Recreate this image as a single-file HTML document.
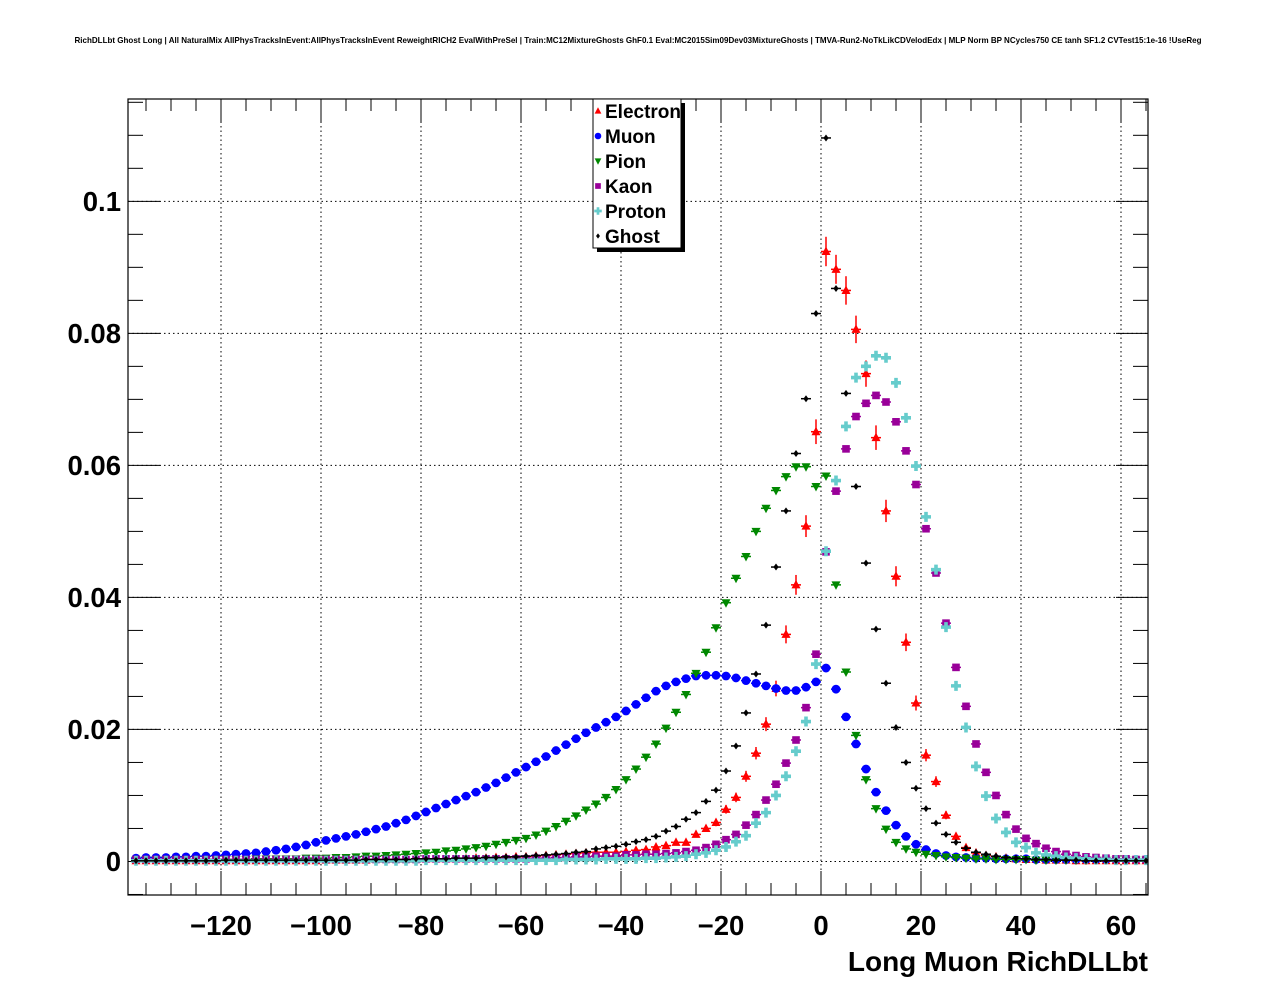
<!DOCTYPE html>
<html><head><meta charset="utf-8"><style>
html,body{margin:0;padding:0;background:#fff;}
svg{display:block;font-family:"Liberation Sans",Arial,sans-serif;}
</style></head><body>
<svg id="chart" width="1276" height="996" viewBox="0 0 1276 996" xmlns="http://www.w3.org/2000/svg">
<defs><clipPath id="frameclip"><rect x="128" y="99" width="1020" height="796"/></clipPath></defs>
<rect x="0" y="0" width="1276" height="996" fill="#fff"/>
<text x="638" y="43" text-anchor="middle" font-size="8.1" font-weight="bold" textLength="1127" lengthAdjust="spacingAndGlyphs">RichDLLbt Ghost Long | All NaturalMix AllPhysTracksInEvent:AllPhysTracksInEvent ReweightRICH2 EvalWithPreSel | Train:MC12MixtureGhosts GhF0.1 Eval:MC2015Sim09Dev03MixtureGhosts | TMVA-Run2-NoTkLikCDVelodEdx | MLP Norm BP NCycles750 CE tanh SF1.2 CVTest15:1e-16 !UseReg</text>
<g id="grid"></g>
<g id="axes"></g>
<g id="series" clip-path="url(#frameclip)"></g>
<rect x="128" y="99" width="1020" height="796" fill="none" stroke="#000" stroke-width="1.2"/>
<text x="1148" y="971" text-anchor="end" font-size="28" font-weight="bold">Long Muon RichDLLbt</text>
<g id="legend">
<rect x="597" y="103" width="88" height="149" fill="#000"/>
<rect x="593" y="99" width="88" height="149" fill="#fff" stroke="#000" stroke-width="1"/>
</g>
</svg>
<script>
const bins = [];
for (let b = -139; b <= 65; b += 2) bins.push(b);
const electron = [
.0001,.0001,.0001,.0001,.0001,.0001,.0001,.0001,.0001,.0001,.0001,.0001,.0001,.0001,.0001,.0001,.0001,.0001,.0001,.0001,
.0002,.0002,.0002,.0002,.0002,.0003,.0003,.0003,.0003,.0003,.0004,.0004,.0004,.0004,.0004,.0005,.0005,.0006,.0006,.0007,
.0007,.0008,.0009,.0010,.0011,.0012,.0013,.0014,.0014,.0014,.0015,.0017,.0018,.0022,.0024,.0029,.0029,.0041,.0050,.0059,
.0079,.0097,.0129,.0164,.0208,.0262,.0344,.0419,.0508,.0651,
.0924,.0897,.0865,.0806,.0739,.0642,.0531,.0432,.0332,.0240,
.0161,.0121,.0070,.0038,.0021,.0013,.0009,.0007,.0005,.0004,
.0003,.0003,.0002,.0002,.0002,.0001,.0001,.0001,.0001,.0001,
.0001,.0001,.0001];
const muon = [
.0005,.0005,.0006,.0006,.0006,.0007,.0007,.0008,.0008,.0009,.0010,.0011,.0012,.0013,.0015,.0017,.0019,.0022,.0025,.0029,
.0032,.0035,.0038,.0041,.0045,.0049,.0053,.0058,.0063,.0069,.0075,.0081,.0087,.0093,.0099,.0105,.0112,.0119,.0127,.0135,
.0143,.0151,.0159,.0168,.0177,.0186,.0195,.0203,.0211,.0219,.0228,.0238,.0248,.0258,.0266,.0272,.0277,.0281,.0282,.0282,
.0281,.0278,.0274,.0270,.0266,.0262,.0259,.0259,.0264,.0272,
.0293,.0261,.0219,.0178,.0140,.0105,.0077,.0055,.0038,.0026,
.0018,.0012,.0009,.0007,.0006,.0005,.0005,.0004,.0004,.0004,
.0004,.0003,.0003,.0003,.0003,.0003,.0003,.0003,.0003,.0003,
.0003,.0003,.0003];
const pion = [
.0002,.0002,.0002,.0002,.0002,.0002,.0003,.0003,.0003,.0003,.0003,.0003,.0003,.0004,.0004,.0004,.0004,.0004,.0005,.0005,
.0005,.0006,.0006,.0007,.0008,.0008,.0009,.0010,.0011,.0012,.0013,.0014,.0016,.0017,.0019,.0021,.0023,.0026,.0029,.0032,
.0035,.0040,.0046,.0053,.0061,.0069,.0078,.0087,.0097,.0109,.0124,.0140,.0158,.0178,.0202,.0226,.0253,.0285,.0317,.0354,
.0392,.0429,.0462,.0500,.0535,.0562,.0583,.0598,.0598,.0568,
.0584,.0419,.0287,.0191,.0124,.0080,.0049,.0029,.0019,.0014,
.0011,.0009,.0007,.0006,.0005,.0004,.0004,.0003,.0003,.0003,
.0003,.0002,.0002,.0002,.0002,.0002,.0002,.0002,.0002,.0002,
.0002,.0002,.0002];
const kaon = [
.0003,.0003,.0003,.0003,.0003,.0003,.0003,.0003,.0003,.0003,.0003,.0003,.0003,.0003,.0003,.0003,.0003,.0003,.0003,.0003,
.0003,.0003,.0003,.0003,.0003,.0003,.0003,.0003,.0003,.0003,.0004,.0004,.0004,.0004,.0004,.0004,.0004,.0004,.0004,.0004,
.0004,.0005,.0005,.0006,.0006,.0007,.0007,.0008,.0008,.0008,.0010,.0010,.0011,.0011,.0012,.0013,.0015,.0017,.0021,.0026,
.0033,.0041,.0055,.0071,.0093,.0117,.0149,.0184,.0233,.0314,
.0469,.0561,.0625,.0674,.0694,.0706,.0696,.0666,.0622,.0571,
.0504,.0437,.0361,.0294,.0235,.0178,.0135,.0100,.0071,.0049,
.0035,.0027,.0020,.0015,.0011,.0009,.0007,.0006,.0005,.0004,
.0004,.0003,.0003];
const proton = [
.0001,.0001,.0001,.0001,.0001,.0001,.0001,.0001,.0001,.0001,.0001,.0001,.0001,.0001,.0001,.0001,.0001,.0001,.0001,.0001,
.0001,.0001,.0001,.0001,.0001,.0001,.0001,.0001,.0001,.0001,.0002,.0002,.0002,.0002,.0002,.0002,.0002,.0002,.0002,.0002,
.0002,.0002,.0002,.0002,.0003,.0003,.0003,.0003,.0004,.0004,.0004,.0004,.0005,.0005,.0006,.0007,.0008,.0011,.0013,.0017,
.0022,.0030,.0039,.0058,.0074,.0100,.0129,.0167,.0212,.0299,
.0470,.0577,.0659,.0733,.0750,.0766,.0763,.0725,.0672,.0599,
.0522,.0442,.0355,.0266,.0203,.0144,.0099,.0065,.0044,.0029,
.0021,.0013,.0010,.0008,.0006,.0005,.0004,.0003,.0003,.0002,
.0002,.0002,.0002];
const ghost = [
.0001,.0001,.0001,.0001,.0001,.0001,.0001,.0001,.0001,.0001,.0002,.0002,.0002,.0002,.0002,.0002,.0002,.0002,.0002,.0002,
.0002,.0002,.0002,.0002,.0003,.0003,.0003,.0003,.0003,.0004,.0004,.0004,.0004,.0005,.0005,.0005,.0006,.0006,.0007,.0007,
.0008,.0009,.0010,.0011,.0012,.0014,.0015,.0019,.0021,.0023,.0026,.0030,.0033,.0038,.0046,.0053,.0064,.0074,.0091,.0108,
.0137,.0175,.0225,.0284,.0358,.0446,.0531,.0618,.0701,.0830,
.1096,.0868,.0709,.0568,.0452,.0352,.0270,.0203,.0150,.0111,
.0080,.0058,.0041,.0029,.0020,.0014,.0011,.0008,.0006,.0005,
.0004,.0003,.0003,.0002,.0002,.0002,.0001,.0001,.0001,.0001,
.0001,.0001,.0001];
const xTicks = [-120,-100,-80,-60,-40,-20,0,20,40,60];
const xTickLabels = ["\u2212120","\u2212100","\u221280","\u221260","\u221240","\u221220","0","20","40","60"];
const yTicks = [0,0.02,0.04,0.06,0.08,0.1];
const yTickLabels = ["0","0.02","0.04","0.06","0.08","0.1"];
const legendLabels = ["Electron","Muon","Pion","Kaon","Proton","Ghost"];

const NS = "http://www.w3.org/2000/svg";
const X0 = 128, X1 = 1148, Y0 = 99, Y1 = 895;
const xmin = -138.6, xmax = 65.4, ymin = -0.00508, ymax = 0.1155;
function xs(v){ return X0 + (v - xmin) / (xmax - xmin) * (X1 - X0); }
function ys(v){ return Y1 - (v - ymin) / (ymax - ymin) * (Y1 - Y0); }
function mk(tag, attrs, parent){
  const e = document.createElementNS(NS, tag);
  for (const k in attrs) e.setAttribute(k, attrs[k]);
  parent.appendChild(e);
  return e;
}
const grid = document.getElementById('grid');
const axes = document.getElementById('axes');
const series = document.getElementById('series');

xTicks.forEach((t, i) => {
  const x = xs(t);
  const g = mk('line', {x1:x, x2:x, y1:Y0, y2:Y1, stroke:'#000', 'stroke-width':1, 'stroke-dasharray':'1.5,3'}, grid);
  
  
  const lb = mk('text', {x:x, y:935, 'text-anchor':'middle', 'font-size':27.5, 'font-weight':'bold'}, axes);
  lb.textContent = xTickLabels[i];
  
  
});
for (let v = -135; v <= 65; v += 5) {
  const x = xs(v);
  const major = (v % 20 === 0);
  const len = major ? 24 : 12;
  const a = mk('line', {x1:x, x2:x, y1:Y1, y2:Y1 - len, stroke:'#000', 'stroke-width':1}, axes);
  
  
  const b = mk('line', {x1:x, x2:x, y1:Y0, y2:Y0 + len, stroke:'#000', 'stroke-width':1}, axes);
  
  
}
yTicks.forEach((t, i) => {
  const y = ys(t);
  const g = mk('line', {x1:X0, x2:X1, y1:y, y2:y, stroke:'#000', 'stroke-width':1, 'stroke-dasharray':'1.5,3'}, grid);
  
  
  const lb = mk('text', {x:121, y:y + 9.5, 'text-anchor':'end', 'font-size':27.5, 'font-weight':'bold'}, axes);
  lb.textContent = yTickLabels[i];
  
  
});
for (let k = -1; k <= 23; k++) {
  const v = k * 0.005;
  const y = ys(v);
  if (y < Y0 || y > Y1) continue;
  const major = (k % 4 === 0);
  const len = major ? 32 : 15;
  const a = mk('line', {x1:X0, x2:X0 + len, y1:y, y2:y, stroke:'#000', 'stroke-width':1}, axes);
  
  
  const b = mk('line', {x1:X1, x2:X1 - len, y1:y, y2:y, stroke:'#000', 'stroke-width':1}, axes);
  
  
}

function marker(shape, color, cx, cy, parent, s){
  let e;
  if (shape === 'tri-up') e = mk('polygon', {points:`${cx},${cy-5*s} ${cx-4.5*s},${cy+3.5*s} ${cx+4.5*s},${cy+3.5*s}`, fill:color}, parent);
  else if (shape === 'tri-down') e = mk('polygon', {points:`${cx},${cy+5*s} ${cx-4.5*s},${cy-3.5*s} ${cx+4.5*s},${cy-3.5*s}`, fill:color}, parent);
  else if (shape === 'circle') e = mk('circle', {cx:cx, cy:cy, r:4.4*s, fill:color}, parent);
  else if (shape === 'square') e = mk('rect', {x:cx-3.8*s, y:cy-3.8*s, width:7.6*s, height:7.6*s, fill:color}, parent);
  else if (shape === 'cross') e = mk('path', {d:`M${cx-5*s},${cy-1.8*s}h${3.2*s}v${-3.2*s}h${3.6*s}v${3.2*s}h${3.2*s}v${3.6*s}h${-3.2*s}v${3.2*s}h${-3.6*s}v${-3.2*s}h${-3.2*s}z`, fill:color}, parent);
  else e = mk('polygon', {points:`${cx},${cy-3.5*s} ${cx+2.6*s},${cy} ${cx},${cy+3.5*s} ${cx-2.6*s},${cy}`, fill:color}, parent);
  return e;
}
const defs = [
  {name:'electron', vals:electron, color:'#ff0000', shape:'tri-up', err:true},
  {name:'muon', vals:muon, color:'#0000ff', shape:'circle'},
  {name:'pion', vals:pion, color:'#008800', shape:'tri-down'},
  {name:'kaon', vals:kaon, color:'#990099', shape:'square'},
  {name:'proton', vals:proton, color:'#66cccc', shape:'cross'},
  {name:'ghost', vals:ghost, color:'#000000', shape:'diamond'}
];
defs.forEach(d => {
  const g = mk('g', {}, series);
  
  
  d.vals.forEach((v, i) => {
    const cx = xs(bins[i]), cy = ys(v);
    if (cx < X0 + 2 || cx > X1 - 2) return;
    const h = mk('line', {x1:xs(bins[i]-1), x2:xs(bins[i]+1), y1:cy, y2:cy, stroke:d.color, 'stroke-width':1.5}, g);
    
    
    if (d.err) {
      const e = 0.0022 * Math.sqrt(v / 0.09);
      const vb = mk('line', {x1:cx, x2:cx, y1:ys(v + e), y2:ys(v - e), stroke:d.color, 'stroke-width':1.5}, g);
      
      
    }
    const m = marker(d.shape, d.color, cx, cy, g, 1);
    
    
  });
});
const leg = document.getElementById('legend');
defs.forEach((d, i) => {
  const y = 111 + 25 * i;
  const m = marker(d.shape, d.color, 598, y, leg, 0.75);
  
  
  const t = mk('text', {x:605, y:y + 7, 'font-size':19, 'font-weight':'bold'}, leg);
  t.textContent = legendLabels[i];
  
  
});
</script>
</body></html>
